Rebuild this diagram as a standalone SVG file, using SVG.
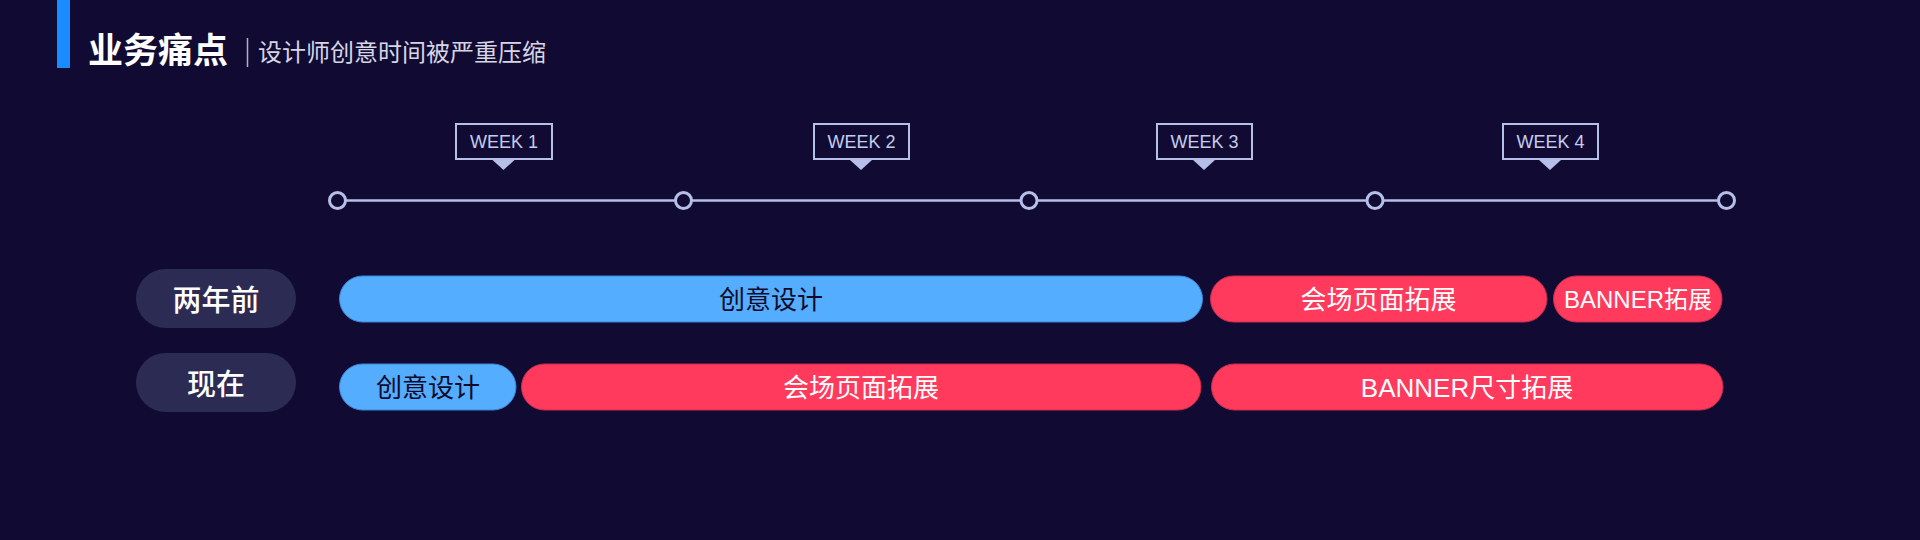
<svg xmlns="http://www.w3.org/2000/svg" width="1920" height="540" viewBox="0 0 1920 540">
<style>
.bg{fill:#110b33}
.wk rect{fill:#110b33;stroke:#b6bfe8;stroke-width:2}
.wk path{fill:#b6bfe8}
.wk text{font-family:"Liberation Sans",Arial,sans-serif;font-size:18px;fill:#c4ccf0;text-anchor:middle}
.dot{fill:#110b33;stroke:#b6bfe8;stroke-width:3}
.lbl rect{fill:#2c2b53}
.lbl text{font-family:"Noto Sans CJK SC",sans-serif;font-size:29px;font-weight:500;fill:#ffffff;text-anchor:middle}
.bar text{font-family:"Liberation Sans","Noto Sans CJK SC",sans-serif;font-size:26px;text-anchor:middle}
.blue rect{fill:#54adff;stroke:#3a86d6;stroke-width:1}
.blue text{fill:#0e0b2a}
.red rect{fill:#ff3a5c;stroke:#c92d4c;stroke-width:1}
.red text{fill:#ffffff}
</style>
<rect class="bg" x="0" y="0" width="1920" height="540"/>
<g id="header">
<rect x="57" y="0" width="13" height="68" fill="#1a8cff"/>
<text x="88" y="63" font-family="Noto Sans CJK SC, sans-serif" font-size="35" font-weight="700" fill="#ffffff">业务痛点</text>
<line x1="247.5" y1="38" x2="247.5" y2="67" stroke="#b0b0c4" stroke-width="1.5"/>
<text x="258" y="61" font-family="Noto Sans CJK SC, sans-serif" font-size="24" fill="#d6d6e4">设计师创意时间被严重压缩</text>
</g>
<g id="connectors">
<line x1="337" y1="200.5" x2="1727" y2="200.5" stroke="#b6bfe8" stroke-width="2.5"/>
</g>
<g id="dots">
<circle class="dot" cx="337.5" cy="200.5" r="8"/>
<circle class="dot" cx="683.5" cy="200.5" r="8"/>
<circle class="dot" cx="1029" cy="200.5" r="8"/>
<circle class="dot" cx="1375" cy="200.5" r="8"/>
<circle class="dot" cx="1726.5" cy="200.5" r="8"/>
</g>
<g id="week1" class="wk">
<rect x="456" y="124" width="96" height="35"/>
<path d="M492.5 160 L514.5 160 L503.5 170 Z"/>
<text x="504" y="148">WEEK 1</text>
</g>
<g id="week2" class="wk">
<rect x="814" y="124" width="95" height="35"/>
<path d="M850 160 L872 160 L861 170 Z"/>
<text x="861.5" y="148">WEEK 2</text>
</g>
<g id="week3" class="wk">
<rect x="1157" y="124" width="95" height="35"/>
<path d="M1193 160 L1215 160 L1204 170 Z"/>
<text x="1204.5" y="148">WEEK 3</text>
</g>
<g id="week4" class="wk">
<rect x="1503" y="124" width="95" height="35"/>
<path d="M1539 160 L1561 160 L1550 170 Z"/>
<text x="1550.5" y="148">WEEK 4</text>
</g>
<g id="label-before" class="lbl">
<rect x="136" y="269" width="160" height="59" rx="29.5"/>
<text x="216" y="311">两年前</text>
</g>
<g id="label-now" class="lbl">
<rect x="136" y="353" width="160" height="59" rx="29.5"/>
<text x="216" y="395">现在</text>
</g>
<g id="before-design" class="bar blue">
<rect x="339.5" y="276" width="863" height="46" rx="23"/>
<text x="771" y="308.5">创意设计</text>
</g>
<g id="before-venue" class="bar red">
<rect x="1210.5" y="276" width="336.5" height="46" rx="23"/>
<text x="1378.5" y="308.5">会场页面拓展</text>
</g>
<g id="before-banner" class="bar red">
<rect x="1553.5" y="276" width="168.5" height="46" rx="23"/>
<text x="1638" y="308" style="font-size:24px">BANNER拓展</text>
</g>
<g id="now-design" class="bar blue">
<rect x="339.5" y="364" width="176.5" height="46" rx="23"/>
<text x="428" y="396.5">创意设计</text>
</g>
<g id="now-venue" class="bar red">
<rect x="521.5" y="364" width="679.5" height="46" rx="23"/>
<text x="861" y="396.5">会场页面拓展</text>
</g>
<g id="now-banner" class="bar red">
<rect x="1211.5" y="364" width="511.5" height="46" rx="23"/>
<text x="1467" y="396.5">BANNER尺寸拓展</text>
</g>
</svg>
